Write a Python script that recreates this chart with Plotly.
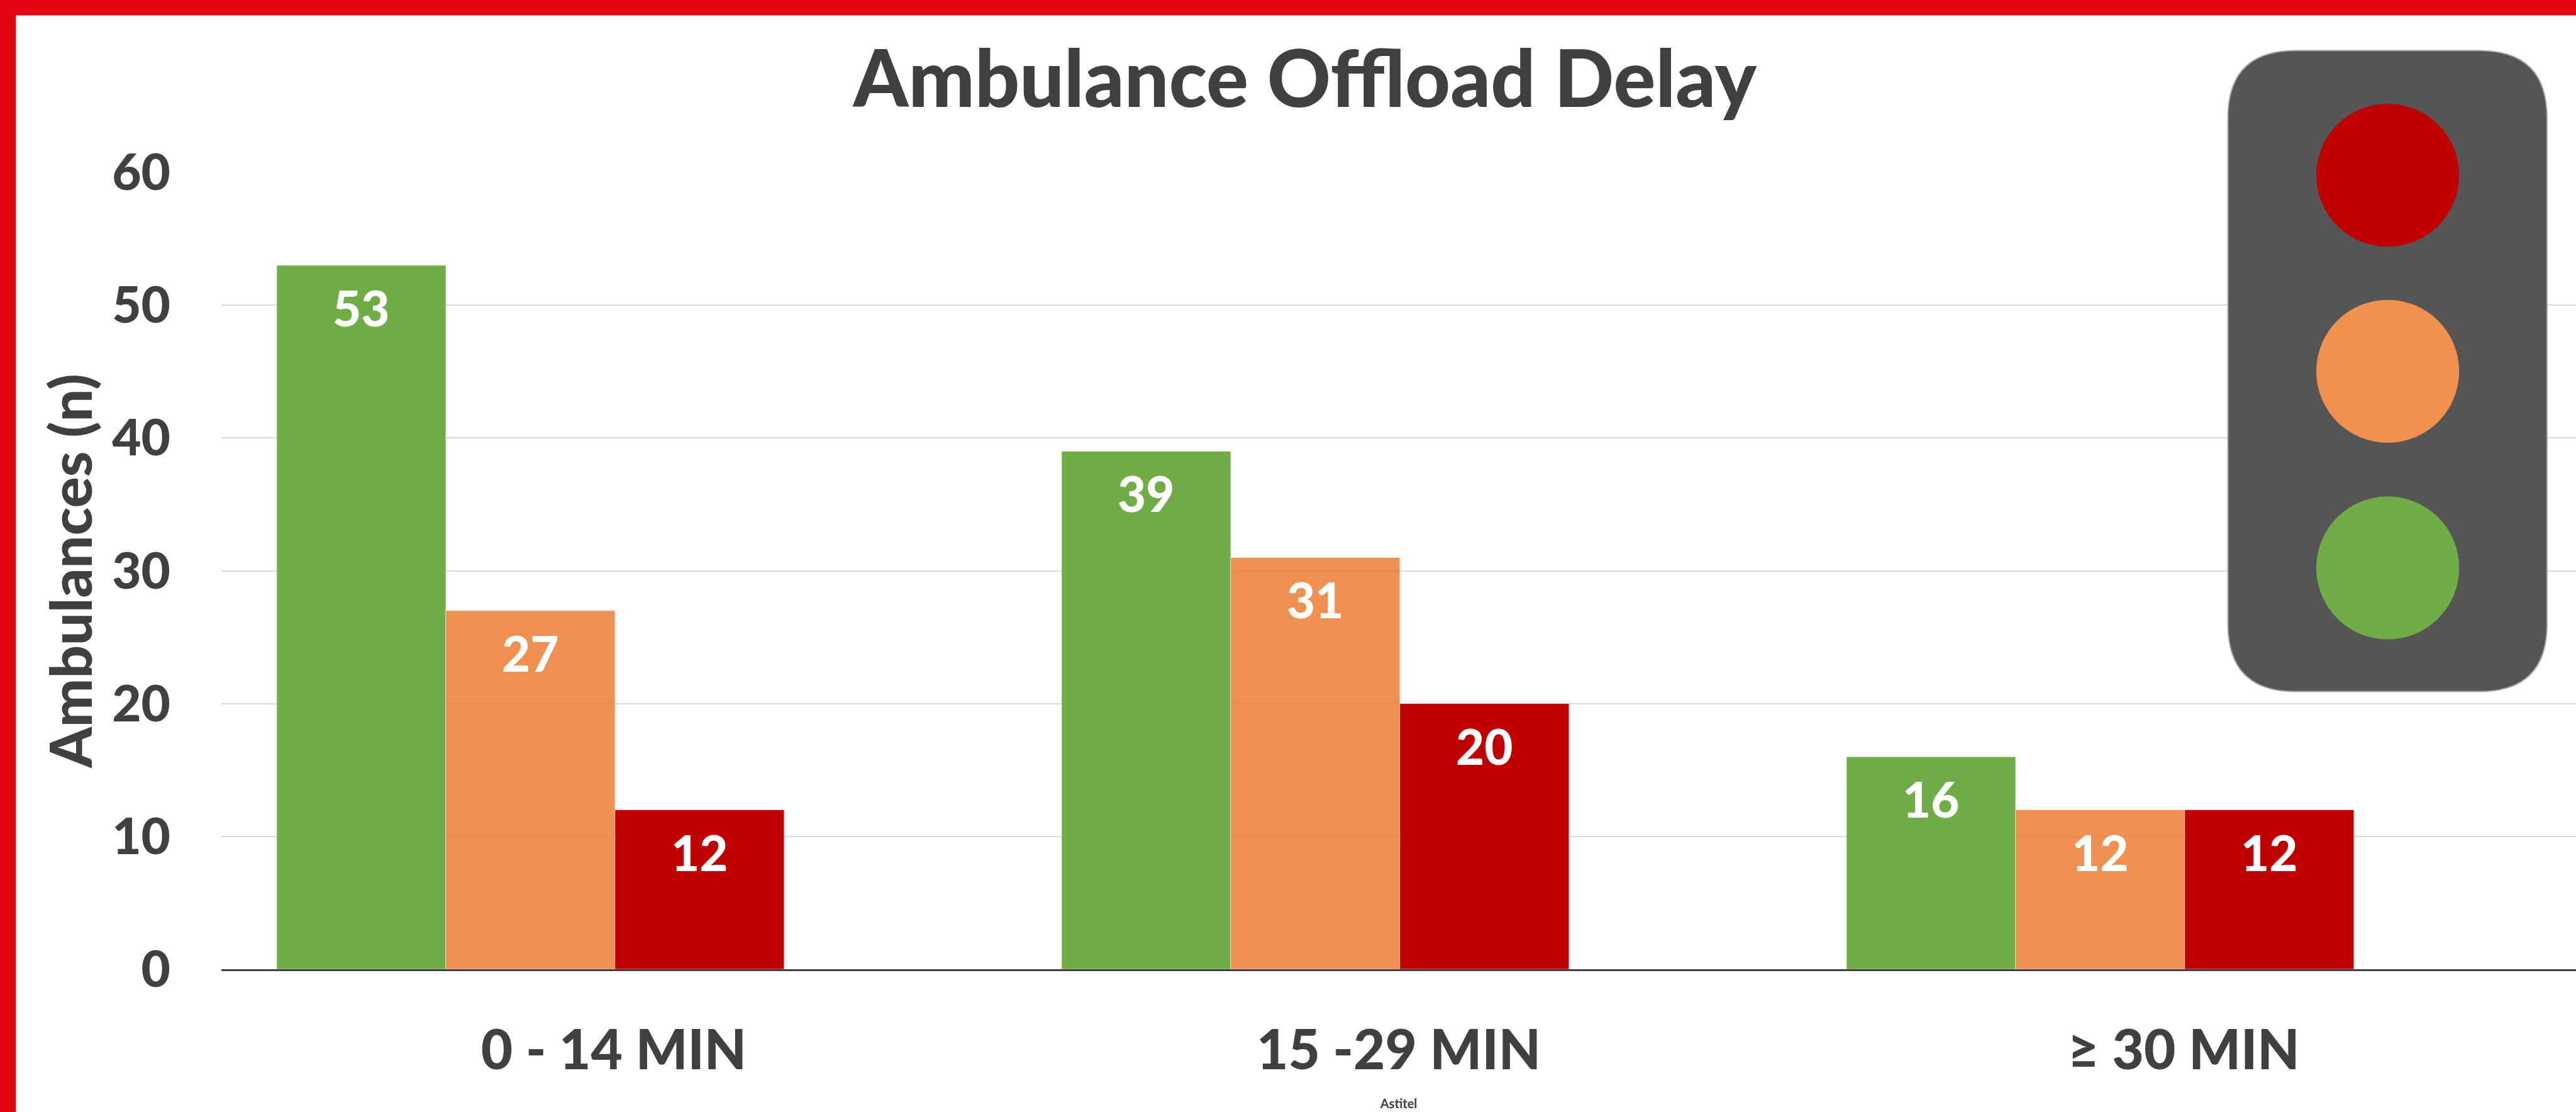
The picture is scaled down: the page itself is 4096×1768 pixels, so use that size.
import plotly.graph_objects as go

categories = ["0 - 14 MIN", "15 -29 MIN", "≥ 30 MIN"]
green_values = [53, 39, 16]
orange_values = [27, 31, 12]
red_values = [12, 20, 12]
y_ticks = [0, 10, 20, 30, 40, 50, 60]

TITLE = "Ambulance Offload Delay"
Y_TITLE = "Ambulances (n)"
X_TITLE = "Astitel"

GREEN = "#70AD47"
ORANGE = "rgba(237,125,49,0.85)"
ORANGE_SOLID = "#F09150"
RED = "#C00000"
TEXT = "#404040"
BORDER = "#E30613"
HOUSING = "#555555"
FONT = "Lato"
HEAVY = 900

W, H = 4096, 1768
S = W / 5336
L, R, T, B = 459 * S, 0, 357 * S, H - 2007 * S
PW, PH = W - L - R, H - T - B


def px(x):
    return (x * S - L) / PW


def py(y):
    return 1 - (y * S - T) / PH


BAR_W = 0.2155
series = [
    ("Green", green_values, GREEN, -0.4295),
    ("Orange", orange_values, ORANGE, -0.2140),
    ("Red", red_values, RED, 0.0015),
]

fig = go.Figure()
for name, vals, col, off in series:
    fig.add_bar(
        name=name, x=categories, y=vals, width=BAR_W, offset=off,
        marker=dict(color=col, line=dict(color="rgba(255,255,255,0.55)", width=1)),
        showlegend=False,
    )

annotations = []
for name, vals, col, off in series:
    for i, v in enumerate(vals):
        annotations.append(dict(
            x=i + off + BAR_W / 2, y=v, xref="x", yref="y", text=str(v),
            showarrow=False, yanchor="top", yshift=-18,
            font=dict(family=FONT, size=78, color="white", weight=HEAVY),
        ))


def rrect(x0, y0, x1, y1, r):
    X0, X1 = px(x0), px(x1)
    Y0, Y1 = py(y0), py(y1)
    rx, ry = r * S / PW, r * S / PH
    return (f"M{X0+rx},{Y0} L{X1-rx},{Y0} Q{X1},{Y0} {X1},{Y0-ry} "
            f"L{X1},{Y1+ry} Q{X1},{Y1} {X1-rx},{Y1} L{X0+rx},{Y1} "
            f"Q{X0},{Y1} {X0},{Y1+ry} L{X0},{Y0-ry} Q{X0},{Y0} {X0+rx},{Y0} Z")


shapes = [
    dict(type="rect", xref="paper", yref="paper", x0=px(0), x1=px(5336), y0=py(0), y1=py(32),
         fillcolor=BORDER, line=dict(color="rgba(0,0,0,0)", width=0), layer="above"),
    dict(type="rect", xref="paper", yref="paper", x0=px(0), x1=px(33), y0=py(0), y1=py(2303),
         fillcolor=BORDER, line=dict(color="rgba(0,0,0,0)", width=0), layer="above"),
    dict(type="path", xref="paper", yref="paper", path=rrect(4615, 105, 5276, 1432, 140),
         fillcolor=HOUSING, line=dict(color="#A6A6A6", width=2), layer="above"),
]
for cy, col in [(363, RED), (769, ORANGE_SOLID), (1176, GREEN)]:
    shapes.append(dict(type="circle", xref="paper", yref="paper",
                       x0=px(4798), x1=px(5094), y0=py(cy - 148), y1=py(cy + 148),
                       fillcolor=col, line=dict(width=0), layer="above"))

fig.update_layout(
    width=W, height=H, autosize=False,
    margin=dict(l=L, r=R, t=T, b=B, pad=0, autoexpand=False),
    paper_bgcolor="white", plot_bgcolor="white",
    barmode="overlay", shapes=shapes, annotations=annotations,
    font=dict(family=FONT, color=TEXT),
    title=dict(text=TITLE, x=2703 / 5336, xanchor="center", y=1 - 165 / 2303, yanchor="middle",
               font=dict(family=FONT, size=125, color=TEXT, weight=HEAVY)),
    xaxis=dict(
        type="category", categoryorder="array", categoryarray=categories, range=[-0.5, 2.5],
        showgrid=False, showline=True, linecolor=TEXT, linewidth=3, ticks="",
        ticklabelstandoff=52, tickfont=dict(family=FONT, size=87, color=TEXT, weight=HEAVY),
        title=dict(text=X_TITLE, standoff=30, font=dict(family=FONT, size=20, color=TEXT, weight=700)),
    ),
    yaxis=dict(
        range=[0, 60], tickvals=y_ticks, showline=False, zeroline=False, ticks="",
        gridcolor="#D9D9D9", gridwidth=1.5, ticklabelstandoff=80,
        tickfont=dict(family=FONT, size=80, color=TEXT, weight=HEAVY),
        title=dict(text=Y_TITLE, standoff=0, font=dict(family=FONT, size=92, color=TEXT, weight=HEAVY)),
    ),
)

fig.write_html("out.html", config={"displayModeBar": False},
               post_script="document.body.style.margin='0';document.body.style.overflow='hidden';")
